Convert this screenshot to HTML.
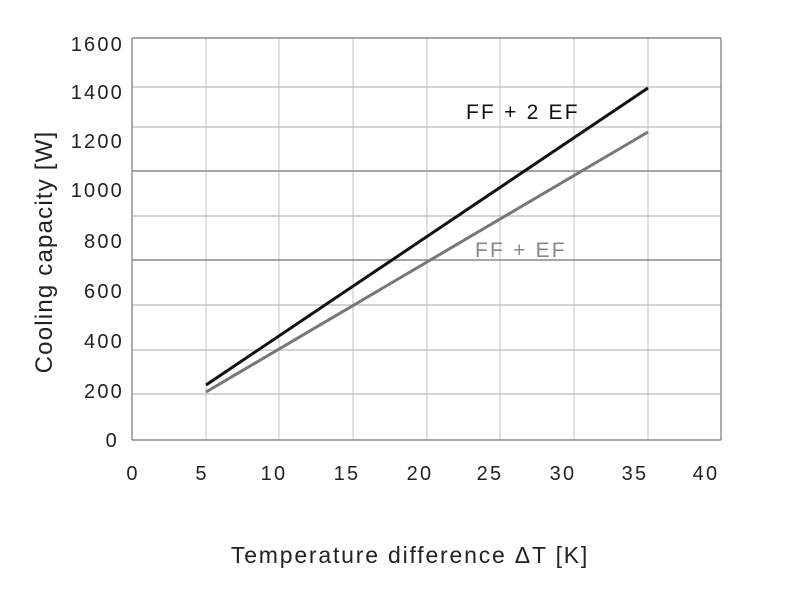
<!DOCTYPE html>
<html><head><style>body{margin:0;background:#fff}</style></head><body>
<svg width="800" height="596" xmlns="http://www.w3.org/2000/svg" font-family="Liberation Sans, DejaVu Sans, sans-serif">
<rect width="800" height="596" fill="#fff"/>
<g stroke="#d0d0d0" stroke-width="1.3">
<line x1="206" y1="38" x2="206" y2="440"/><line x1="279" y1="38" x2="279" y2="440"/>
<line x1="353" y1="38" x2="353" y2="440"/><line x1="427" y1="38" x2="427" y2="440"/>
<line x1="500" y1="38" x2="500" y2="440"/><line x1="574" y1="38" x2="574" y2="440"/>
<line x1="648" y1="38" x2="648" y2="440"/>
</g>
<g stroke="#bbb" stroke-width="1.2">
<line x1="132" y1="87" x2="721" y2="87"/><line x1="132" y1="127" x2="721" y2="127"/>
<line x1="132" y1="216" x2="721" y2="216"/><line x1="132" y1="305" x2="721" y2="305"/>
<line x1="132" y1="350" x2="721" y2="350"/><line x1="132" y1="394" x2="721" y2="394"/>
</g>
<g stroke="#888" stroke-width="1.4">
<line x1="132" y1="171" x2="721" y2="171"/><line x1="132" y1="260" x2="721" y2="260"/>
<line x1="132" y1="38" x2="721" y2="38"/><line x1="132" y1="440" x2="721" y2="440"/>
<line x1="132" y1="38" x2="132" y2="440"/><line x1="721" y1="38" x2="721" y2="440"/>
</g>
<line x1="206" y1="385" x2="648" y2="88" stroke="#111" stroke-width="3"/>
<line x1="206" y1="392" x2="648" y2="132" stroke="#777" stroke-width="3"/>
<text x="466" y="119" font-size="21" letter-spacing="2.2" fill="#111">FF + 2 EF</text>
<text x="475" y="257" font-size="21" letter-spacing="2.2" fill="#888">FF + EF</text>
<g font-size="20" fill="#222" text-anchor="end" letter-spacing="2.2">
<text x="124" y="51">1600</text><text x="124" y="99">1400</text><text x="124" y="148">1200</text>
<text x="124" y="197">1000</text><text x="124" y="248">800</text><text x="124" y="298">600</text>
<text x="124" y="348">400</text><text x="124" y="398">200</text><text x="119" y="447">0</text>
</g>
<g font-size="20" fill="#222" text-anchor="middle" letter-spacing="2.2">
<text x="133" y="480">0</text><text x="202" y="480">5</text><text x="274" y="480">10</text>
<text x="347" y="480">15</text><text x="420" y="480">20</text><text x="490" y="480">25</text>
<text x="563" y="480">30</text><text x="635" y="480">35</text><text x="706" y="480">40</text>
</g>
<text transform="translate(52,252) rotate(-90)" font-size="24" letter-spacing="1.2" fill="#222" text-anchor="middle">Cooling capacity  [W]</text>
<text x="410" y="563" font-size="23" letter-spacing="1.8" fill="#222" text-anchor="middle">Temperature difference ΔT [K]</text>
</svg>
</body></html>
